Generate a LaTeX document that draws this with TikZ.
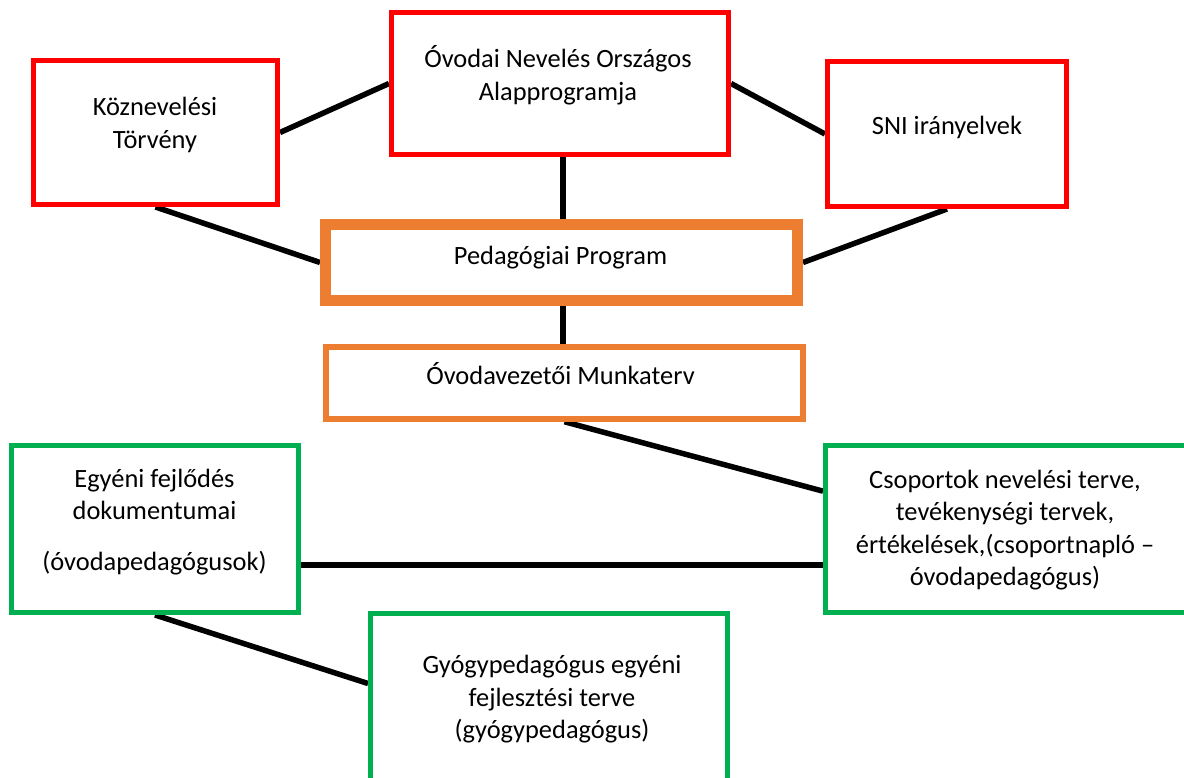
\documentclass[tikz,border=0pt]{standalone}
\usepackage{fontspec}
\setmainfont{Carlito}
\usetikzlibrary{calc}
\definecolor{boxred}{RGB}{255,0,0}
\definecolor{boxorange}{RGB}{237,125,49}
\definecolor{boxgreen}{RGB}{0,176,80}
\newcommand\lstrut{\rule[-0.25em]{0pt}{0.97em}}
\pgfdeclarelayer{background}
\pgfsetlayers{background,main}
\begin{document}
\begin{tikzpicture}[x=1pt,y=-1pt,
  box/.style={draw, rectangle, inner sep=0pt, fill=white},
  redbox/.style={box, draw=boxred, line width=5pt},
  orangethick/.style={box, draw=boxorange, line width=11pt},
  orangebox/.style={box, draw=boxorange, line width=5.5pt},
  greenbox/.style={box, draw=boxgreen, line width=5pt},
  txt/.style={font=\fontsize{26.4}{32.5}\selectfont, align=center, inner sep=0pt},
  link/.style={line width=5.5pt, black}
]
\useasboundingbox (0,0) rectangle (1184,778);
\clip (0,0) rectangle (1184,778);

\node[redbox, minimum width=244pt, minimum height=144pt] (koz) at (155.5,132.5) {};
\node[redbox, minimum width=337pt, minimum height=142pt] (onoa) at (560,83.5) {};
\node[redbox, minimum width=239pt, minimum height=145pt] (sni) at (947,134) {};
\node[orangethick, minimum width=472pt, minimum height=76pt] (ped) at (561.5,262.5) {};
\node[orangebox, minimum width=477pt, minimum height=72pt] (ovez) at (564.5,383) {};
\node[greenbox, minimum width=287pt, minimum height=167pt] (egy) at (155,529) {};
\node[greenbox, minimum width=364.5pt, minimum height=167pt] (csop) at (1007.75,529) {};
\node[greenbox, minimum width=357pt, minimum height=186.5pt] (gyogy) at (549,706.75) {};

\node[txt] (tkoz) at (155,126) {\lstrut Köznevelési\\\lstrut Törvény};
\node[txt] (tonoa) at (558,76.5) {\lstrut Óvodai Nevelés Országos\\\lstrut Alapprogramja};
\node[txt] (tsni) at (947,128) {\lstrut SNI irányelvek};
\node[txt] (tped) at (560.5,258) {\lstrut Pedagógiai Program};
\node[txt] (tovez) at (560.5,377) {\lstrut Óvodavezetői Munkaterv};
\node[txt] (tegy) at (154.5,522.5) {\lstrut Egyéni fejlődés\\\lstrut dokumentumai\\[18pt]\lstrut (óvodapedagógusok)};
\node[txt] (tcsop) at (1005,531) {\lstrut Csoportok nevelési terve,\\\lstrut tevékenységi tervek,\\\lstrut értékelések,(csoportnapló –\\\lstrut óvodapedagógus)};
\node[txt] (tgyogy) at (552,700) {\lstrut Gyógypedagógus egyéni\\\lstrut fejlesztési terve\\\lstrut (gyógypedagógus)};

\begin{pgfonlayer}{background}
\fill[white] (0,0) rectangle (1184,778);
\draw[link] (koz.east) -- (onoa.west);
\draw[link] (onoa.east) -- (sni.west);
\draw[link] (koz.south) -- (ped.west);
\draw[link] (sni.south) -- (ped.east);
\draw[link] ([xshift=3pt]onoa.south) -- ([xshift=3pt]onoa.south |- ped.north);
\draw[link] ([xshift=1.5pt]ped.south) -- ([xshift=1.5pt]ped.south |- ovez.north);
\draw[link] (ovez.south) -- ($(csop.north west)!0.28!(csop.south west)$);
\coordinate (egyr) at ($(egy.north east)!0.71!(egy.south east)$);
\draw[link] (egyr) -- (egyr -| csop.west);
\draw[link] (egy.south) -- ([yshift=-72.5pt]gyogy.north west);
\end{pgfonlayer}
\end{tikzpicture}
\end{document}
